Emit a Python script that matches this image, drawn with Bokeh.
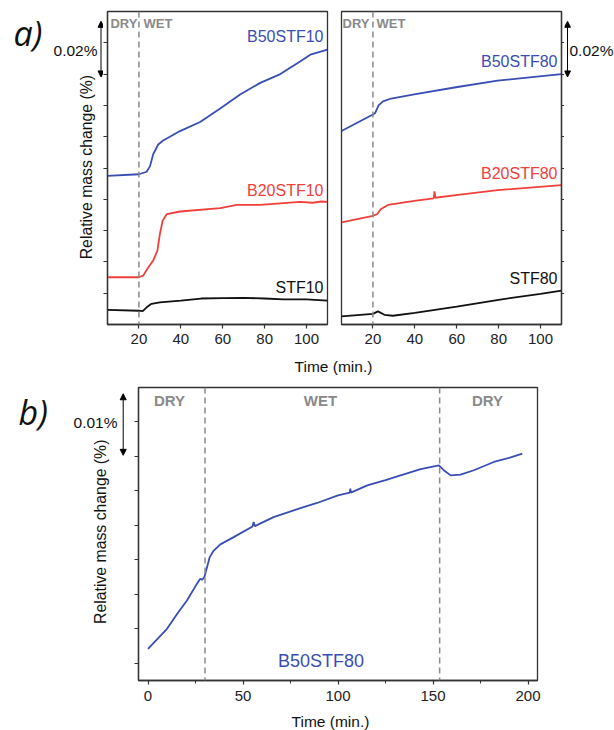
from bokeh.plotting import figure
from bokeh.models import Range1d, FixedTicker, Span, Label, Arrow, NormalHead, CustomJSTickFormatter
from bokeh.layouts import column, row
from bokeh.embed import file_html
from bokeh.resources import INLINE

# ---------------- data (relative mass change, %) ----------------
# panel a) left : 10% RH series
t_b50stf10 = [5, 20, 23.7, 25.3, 26.8, 29.2, 31.6, 39.6, 49.2, 58.8, 68.3, 77.9, 87.5, 97.1, 101.8, 110]
b50stf10 = [0.0475, 0.048, 0.0488, 0.0506, 0.0544, 0.0575, 0.0588, 0.0618, 0.0647, 0.069, 0.0735,
            0.0772, 0.080, 0.0841, 0.0862, 0.0878]
t_b20stf10 = [5, 20, 22, 24.5, 26.8, 28.8, 30, 31.3, 33.3, 39.6, 58.8, 66.7, 77.9, 97, 103, 107, 110]
b20stf10 = [0.0151, 0.0151, 0.0156, 0.0183, 0.0204, 0.0236, 0.0289, 0.0331, 0.0353, 0.0361, 0.0372,
            0.0382, 0.0382, 0.0392, 0.0389, 0.0393, 0.0392]
t_stf10 = [5, 20, 21.8, 23.7, 26, 30, 40, 49.6, 60, 70, 80, 89, 100, 110]
stf10 = [0.0047, 0.0044, 0.0043, 0.0055, 0.0066, 0.0071, 0.0076, 0.0083, 0.0084, 0.0085, 0.0083,
         0.0080, 0.0080, 0.0076]

# panel a) right : 80% RH series
t_b50stf80 = [5, 20, 21.1, 22.7, 24.8, 28.7, 39.7, 59.6, 79.5, 99.4, 110]
b50stf80 = [0.0618, 0.0671, 0.0676, 0.070, 0.0713, 0.0722, 0.0735, 0.0758, 0.0779, 0.0793, 0.080]
t_b20stf80 = [5, 20, 22.1, 23.7, 27.2, 39.7, 49.0, 49.4, 49.8, 59.6, 79.5, 99.4, 110]
b20stf80 = [0.0326, 0.0347, 0.0353, 0.0368, 0.0382, 0.0395, 0.0403, 0.0425, 0.0405, 0.0413, 0.0429,
            0.0440, 0.0445]
t_stf80 = [5, 20, 22.4, 25.5, 29.5, 40, 60, 80, 100, 110]
stf80 = [0.0026, 0.0034, 0.0042, 0.0031, 0.0028, 0.0037, 0.0057, 0.0079, 0.0098, 0.0108]

# panel b) : B50STF80 dry / wet / dry cycle
t_cycle = [0, 10, 15.3, 20.5, 25.8, 27.5, 28.4, 29.7, 31.1, 32.5, 34.6, 38.1, 45.1, 55.0, 55.6, 56.2,
           66.1, 80.2, 89, 100, 106.2, 106.5, 106.8, 115.4, 125, 132.9, 143.5, 153.1, 155.7, 159.3,
           164.5, 171.5, 182, 190.9, 197]
cycle = [0.0021, 0.0050, 0.00715, 0.0091, 0.01155, 0.01225, 0.0121, 0.0125, 0.01395, 0.0154, 0.01635,
         0.01725, 0.0183, 0.01985, 0.0205, 0.0199, 0.0212, 0.0225, 0.02325, 0.02435, 0.02475, 0.02535,
         0.02475, 0.0258, 0.02655, 0.02725, 0.02815, 0.0287, 0.028, 0.02725, 0.02735, 0.028, 0.0292,
         0.02985, 0.0304]

x_ticks_a = [20, 40, 60, 80, 100]
y_ticks_a = [0.01, 0.02, 0.03, 0.04, 0.05, 0.06, 0.07, 0.08, 0.09]
x_ticks_b = [0, 50, 100, 150, 200]
x_minor_b = [25, 75, 125, 175]
y_ticks_b = [0.0, 0.005, 0.01, 0.015, 0.02, 0.025, 0.03, 0.035]
wet_start_a = 20
phase_b = [30, 153.5]
scale_a = 0.02   # scale bar of panel a), %
scale_b = 0.01   # scale bar of panel b), %

BLUE = "#3a4db5"
RED = "#f0403a"
BLACK = "#111111"
GREY = "#8a8a8a"
FONT = "Liberation Sans"

# geometry (px)
A_FH, A_FW, A_TOP, A_BOT = 313, 220, 11, 28
B_FH, B_FW, B_TOP, B_BOT = 293, 399, 7, 28
YR_A = (0, 0.1)
YR_B = (-0.0025, 0.04)
HEIGHTS = {}


def make_fig(xr, yr, fw, fh, bl, br, bt, bb, yloc="left"):
    p = figure(frame_width=fw, frame_height=fh, x_range=Range1d(*xr), y_range=Range1d(*yr),
               output_backend="svg", toolbar_location=None, y_axis_location=yloc,
               min_border_left=bl, min_border_right=br, min_border_top=bt, min_border_bottom=bb)
    p.xgrid.grid_line_color = None
    p.ygrid.grid_line_color = None
    p.outline_line_color = "#333333"
    p.outline_line_width = 1.3
    for ax in (p.xaxis, p.yaxis):
        ax.axis_line_color = "#333333"
        ax.axis_line_width = 1.3
        ax.major_tick_line_color = "#333333"
        ax.major_tick_line_width = 1.2
        ax.major_tick_out = 4
        ax.major_tick_in = 0
        ax.minor_tick_out = 0
        ax.minor_tick_in = 0
        ax.major_label_text_font = FONT
        ax.major_label_text_font_size = "15px"
        ax.major_label_text_color = "#222222"
        ax.major_label_standoff = 5
    p.yaxis.formatter = CustomJSTickFormatter(code="return ''")
    p.yaxis.major_label_standoff = 0
    p.yaxis.axis_label_standoff = 0
    return p


def decor(w, h):
    p = figure(width=w, height=h, x_range=Range1d(0, w), y_range=Range1d(0, h),
               output_backend="svg", toolbar_location=None, min_border=0,
               x_axis_type=None, y_axis_type=None)
    p.outline_line_color = None
    HEIGHTS[p.id] = h
    return p


def dtext(p, x, y_top, text, size="16px", color="#111111", align="left",
          style="normal", font=FONT, angle=0.0):
    # y_top: distance from the top edge of this decoration strip
    h = HEIGHTS[p.id]
    p.add_layout(Label(x=x, y=h - y_top, text=text, text_font=font, text_font_size=size,
                       text_color=color, text_align=align, text_baseline="middle",
                       text_font_style=style, angle=angle, angle_units="deg"))


def darrow(p, x, y0_top, y1_top):
    h = HEIGHTS[p.id]
    p.add_layout(Arrow(x_start=x, y_start=h - y0_top, x_end=x, y_end=h - y1_top,
                       line_color="black", line_width=1,
                       start=NormalHead(size=6, fill_color="black", line_color="black"),
                       end=NormalHead(size=6, fill_color="black", line_color="black")))


def lab(p, x, y, text, size="16px", color="#111111", align="left", style="normal"):
    p.add_layout(Label(x=x, y=y, text=text, text_font=FONT, text_font_size=size,
                       text_color=color, text_align=align, text_baseline="middle",
                       text_font_style=style))


ROW_A_H = A_TOP + A_FH + A_BOT
ROW_B_H = B_TOP + B_FH + B_BOT

# ---------------- panel a) left ----------------
f1 = make_fig((5, 110), YR_A, A_FW, A_FH, 4, 7, A_TOP, A_BOT)
f1.xaxis.ticker = FixedTicker(ticks=x_ticks_a)
f1.yaxis.ticker = FixedTicker(ticks=y_ticks_a)
f1.add_layout(Span(location=wet_start_a, dimension="height", line_color=GREY, line_dash="6 4",
                   line_width=1.5))
f1.line(t_b50stf10, b50stf10, line_color=BLUE, line_width=1.8)
f1.line(t_b20stf10, b20stf10, line_color=RED, line_width=1.8)
f1.line(t_stf10, stf10, line_color=BLACK, line_width=1.8)
lab(f1, 108.1, 0.092, "B50STF10", color=BLUE, align="right")
lab(f1, 108.1, 0.0428, "B20STF10", color=RED, align="right")
lab(f1, 108.1, 0.0118, "STF10", color=BLACK, align="right")
lab(f1, 6.4, 0.0962, "DRY", size="13px", color=GREY, style="bold")
lab(f1, 22.2, 0.0962, "WET", size="13px", color=GREY, style="bold")

# ---------------- panel a) right ----------------
f2 = make_fig((5, 110), YR_A, A_FW, A_FH, 7, 3, A_TOP, A_BOT, yloc="right")
f2.yaxis.major_tick_out = 3
f2.xaxis.ticker = FixedTicker(ticks=x_ticks_a)
f2.yaxis.ticker = FixedTicker(ticks=y_ticks_a)
f2.add_layout(Span(location=wet_start_a, dimension="height", line_color=GREY, line_dash="6 4",
                   line_width=1.5))
f2.line(t_b50stf80, b50stf80, line_color=BLUE, line_width=1.8)
f2.line(t_b20stf80, b20stf80, line_color=RED, line_width=1.8)
f2.line(t_stf80, stf80, line_color=BLACK, line_width=1.8)
lab(f2, 108.1, 0.084, "B50STF80", color=BLUE, align="right")
lab(f2, 108.1, 0.0482, "B20STF80", color=RED, align="right")
lab(f2, 108.1, 0.0147, "STF80", color=BLACK, align="right")
lab(f2, 5.5, 0.0962, "DRY", size="13px", color=GREY, style="bold")
lab(f2, 21.7, 0.0962, "WET", size="13px", color=GREY, style="bold")

bar_a = scale_a / (YR_A[1] - YR_A[0]) * A_FH
bar_b = scale_b / (YR_B[1] - YR_B[0]) * B_FH

# decorations left of panel a)
d1 = decor(103, ROW_A_H)
dtext(d1, 13, 24, "a)", size="34px", style="italic", font="Open Sans")
dtext(d1, 97, 43.5, "0.02%", size="15.5px", align="right")
darrow(d1, 100.5, A_TOP, A_TOP + bar_a)
dtext(d1, 86, 175, "Relative mass change (%)", size="15.8px", align="center", angle=90)

# decorations right of panel a)
d2 = decor(50, ROW_A_H)
darrow(d2, 3, A_TOP, A_TOP + bar_a)
dtext(d2, 5, 43.5, "0.02%", size="15.5px")

# strip with the shared x title of panel a)
s1 = decor(614, 28)
dtext(s1, 333, 14, "Time (min.)", size="15.5px", align="center")

# ---------------- panel b) ----------------
f3 = make_fig((-5, 205), YR_B, B_FW, B_FH, 4, 76, B_TOP, B_BOT)
f3.xaxis.ticker = FixedTicker(ticks=x_ticks_b, minor_ticks=x_minor_b)
f3.xaxis.minor_tick_out = 3
f3.xaxis.minor_tick_line_color = "#333333"
f3.xaxis.major_label_standoff = 6
f3.yaxis.ticker = FixedTicker(ticks=y_ticks_b)
for loc in phase_b:
    f3.add_layout(Span(location=loc, dimension="height", line_color=GREY, line_dash="6 4",
                       line_width=1.5))
f3.line(t_cycle, cycle, line_color=BLUE, line_width=1.8)
lab(f3, 11.3, 0.0381, "DRY", size="15px", color=GREY, align="center", style="bold")
lab(f3, 90.8, 0.0381, "WET", size="15px", color=GREY, align="center", style="bold")
lab(f3, 178.7, 0.0381, "DRY", size="15px", color=GREY, align="center", style="bold")
lab(f3, 91.05, 0.0004, "B50STF80", size="18px", color=BLUE, align="center")

d3 = decor(134, ROW_B_H)
dtext(d3, 18, 27, "b)", size="34px", style="italic", font="Open Sans")
dtext(d3, 117, 39, "0.01%", size="15.5px", align="right")
darrow(d3, 122.7, B_TOP, B_TOP + bar_b)
dtext(d3, 100, 161.5, "Relative mass change (%)", size="15.8px", align="center", angle=90)

s3 = decor(614, 22)
dtext(s3, 330, 13, "Time (min.)", size="15.5px", align="center")

layout = column(row(d1, f1, f2, d2), s1, row(d3, f3), s3)
open("out.html", "w").write(file_html(layout, INLINE))
